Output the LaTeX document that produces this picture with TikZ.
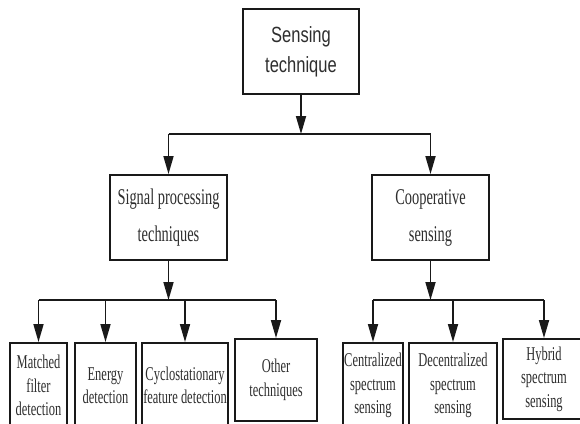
\documentclass[tikz,border=0pt]{standalone}
\usepackage{fontspec}
\setmainfont[FakeStretch=0.64]{Liberation Serif}
\newfontfamily\headfont[FakeStretch=0.75]{Liberation Sans}
\usetikzlibrary{arrows.meta}

\tikzset{
  box/.style={draw=black!90, line width=1.9pt, rectangle, inner sep=0pt,
    align=center, text=black!82},
  headbox/.style={box, font=\headfont\fontsize{22}{30}\selectfont},
  midbox/.style={box, font=\fontsize{22.5}{37}\selectfont},
  leafbox/.style={box, font=\fontsize{19.5}{23.5}\selectfont},
  bus/.style={draw=black!90, line width=1.7pt},
  feed/.style={bus, -{Triangle[length=18pt,width=10pt]}},
}

\begin{document}
\begin{tikzpicture}[x=1pt,y=-1pt]
  \useasboundingbox (0,0) rectangle (580,423);
  \clip (0,0) rectangle (580,423);

  % root
  \node[headbox, minimum width=116pt, minimum height=85pt] (root) at (301,51.5)
    {Sensing\\technique};

  % second level
  \node[midbox, minimum width=117pt, minimum height=85pt] (sig) at (168.5,217.5)
    {Signal processing\\techniques};
  \node[midbox, minimum width=117pt, minimum height=85pt] (coop) at (430.5,217.5)
    {Cooperative\\sensing};

  % leaves under signal processing
  \node[leafbox, minimum width=57pt, minimum height=85pt] (mf) at (38.5,385.5)
    {Matched\\filter\\detection};
  \node[leafbox, minimum width=61pt, minimum height=85pt] (en) at (105.5,385.5)
    {Energy\\detection};
  \node[leafbox, minimum width=86pt, minimum height=85pt] (cy) at (185,385.5)
    {Cyclostationary\\feature detection};
  \node[leafbox, minimum width=82pt, minimum height=82pt] (ot) at (276,380)
    {Other\\techniques};

  % leaves under cooperative sensing
  \node[leafbox, minimum width=60pt, minimum height=85pt] (ce) at (373,385.5)
    {Centralized\\spectrum\\sensing};
  \node[leafbox, minimum width=88pt, minimum height=85pt] (de) at (453,385.5)
    {Decentralized\\spectrum\\sensing};
  \node[leafbox, minimum width=82pt, minimum height=80pt] (hy) at (544,379)
    {Hybrid\\spectrum\\sensing};

  % bus junctions
  \coordinate (j0) at (301,134);
  \coordinate (j1) at (168.5,300);
  \coordinate (j2) at (430.5,300);

  % root -> second level
  \draw[feed] (root.south) -- (j0);
  \draw[bus] (sig.north |- j0) -- (coop.north |- j0);
  \draw[feed] (sig.north |- j0) -- (sig.north);
  \draw[feed] (coop.north |- j0) -- (coop.north);

  % signal processing -> leaves
  \draw[feed] (sig.south) -- (j1);
  \draw[bus] (mf.north |- j1) -- (ot.north |- j1);
  \foreach \n in {mf,en,cy,ot}
    \draw[feed] (\n.north |- j1) -- (\n.north);

  % cooperative sensing -> leaves
  \draw[feed] (coop.south) -- (j2);
  \draw[bus] (ce.north |- j2) -- (hy.north |- j2);
  \foreach \n in {ce,de,hy}
    \draw[feed] (\n.north |- j2) -- (\n.north);
\end{tikzpicture}
\end{document}
